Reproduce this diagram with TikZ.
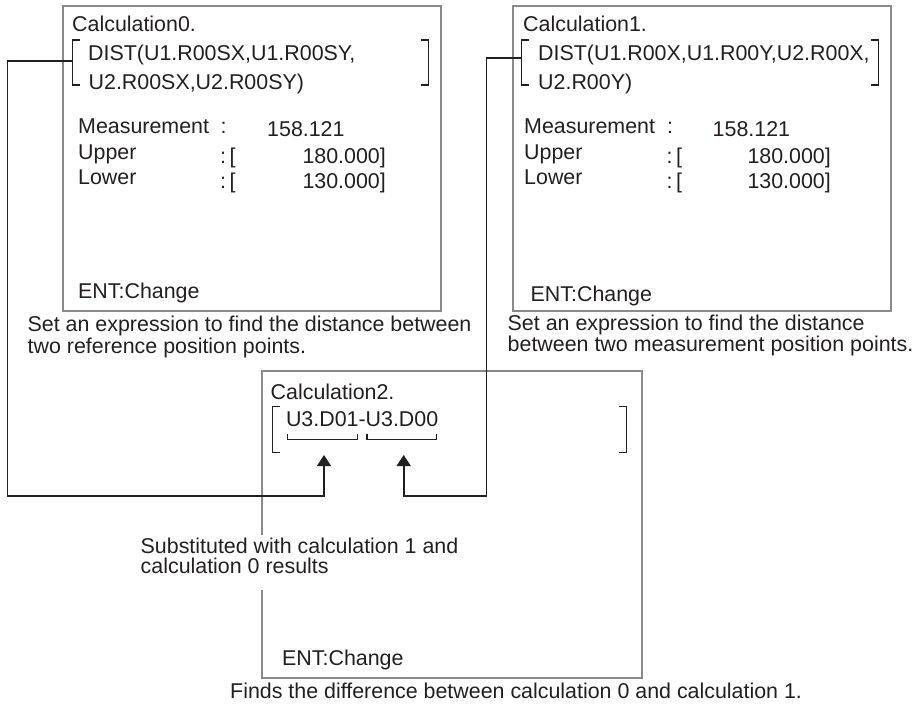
\documentclass[tikz,border=0pt]{standalone}
\usepackage{fontspec}
\setmainfont{Liberation Sans}
\usetikzlibrary{arrows.meta}
\definecolor{frameGray}{HTML}{8A8A8A}
\definecolor{inkBlack}{HTML}{231F20}
\newcommand{\panelfont}{\fontsize{21.4}{21.5}\selectfont}
\tikzset{
  panel/.style={draw=frameGray, line width=2pt, minimum width=377.5pt,
    minimum height=305pt, inner sep=0pt},
  txt/.style={anchor=base west, inner sep=0pt, font=\panelfont, text=inkBlack},
  rtxt/.style={txt, anchor=base east},
  bracket/.style={draw=inkBlack, line width=1.1pt},
  link/.style={draw=inkBlack, line width=1.6pt,
    -{Triangle[width=14pt,length=11pt]}}
}

\begin{document}
\begin{tikzpicture}[x=1pt, y=-1pt]
  \useasboundingbox (0,0) rectangle (915,706);

  % the three setting screens
  \node[panel] (calc0) at (251.75,158.5) {};
  \node[panel] (calc1) at (701.85,158.5) {};
  \node[panel, draw=none] (calc2) at (452,524.5) {};
  \draw[frameGray, line width=2pt]
    ([yshift=-164.4pt]calc2.north west) -- (calc2.north west)
    -- (calc2.north east) -- (calc2.south east) -- (calc2.south west)
    -- ([yshift=88.4pt]calc2.south west);

  % Calculation0
  \node[txt] (c0title) at (72,32) {Calculation0.};
  \node[txt] (c0expa) at (88,61) {DIST(U1.R00SX,U1.R00SY,};
  \node[txt] (c0expb) at (88.5,90) {U2.R00SX,U2.R00SY)};
  \node[txt] (c0meas) at (78,134) {Measurement};
  \node[txt] (c0measc) at (220.5,133) {:};
  \node[txt] (c0measv) at (267,136) {158.121};
  \node[txt] (c0up) at (78,159) {Upper};
  \node[txt] (c0upc) at (220,163) {:\,[};
  \node[rtxt] (c0upv) at (386,163) {180.000]};
  \node[txt] (c0low) at (78,184) {Lower};
  \node[txt] (c0lowc) at (220,188) {:\,[};
  \node[rtxt] (c0lowv) at (386,188) {130.000]};
  \node[txt] (c0ent) at (78,298) {ENT:Change};
  \node[txt] (c0notea) at (27.5,331.7)
    {Set an expression to find the distance between};
  \node[txt] (c0noteb) at (27.5,353.3) {two reference position points.};

  % Calculation1
  \node[txt] (c1title) at (523,32) {Calculation1.};
  \node[txt] (c1expa) at (538,61) {DIST(U1.R00X,U1.R00Y,U2.R00X,};
  \node[txt] (c1expb) at (538,90) {U2.R00Y)};
  \node[txt] (c1meas) at (524,134) {Measurement};
  \node[txt] (c1measc) at (667,133) {:};
  \node[txt] (c1measv) at (712.5,136) {158.121};
  \node[txt] (c1up) at (524,159) {Upper};
  \node[txt] (c1upc) at (666.5,163) {:\,[};
  \node[rtxt] (c1upv) at (831,163) {180.000]};
  \node[txt] (c1low) at (524,184) {Lower};
  \node[txt] (c1lowc) at (666.5,188) {:\,[};
  \node[rtxt] (c1lowv) at (831,188) {130.000]};
  \node[txt] (c1ent) at (530.5,301) {ENT:Change};
  \node[txt] (c1notea) at (507.5,330) {Set an expression to find the distance};
  \node[txt] (c1noteb) at (507.5,351.7) {between two measurement position points.};

  % Calculation2
  \node[txt] (c2title) at (270.5,399) {Calculation2.};
  \node[txt] (c2exp) at (285.8,426.7) {U3.D01-U3.D00};
  \node[txt] (c2suba) at (140.5,553.3) {Substituted with calculation 1 and};
  \node[txt] (c2subb) at (140.5,573.3) {calculation 0 results};
  \node[txt] (c2ent) at (282,665) {ENT:Change};
  \node[txt] (c2note) at (230,698.3)
    {Finds the difference between calculation 0 and calculation 1.};

  % expression brackets
  \foreach \l/\r/\t/\b in {72.7/428.3/40/85, 521.5/878.3/40/85,
                           272.3/626.7/406.7/452.7} {
    \draw[bracket] (\l+7.5,\t) -- (\l,\t) -- (\l,\b) -- (\l+7.5,\b);
    \draw[bracket] (\r-7.5,\t) -- (\r,\t) -- (\r,\b) -- (\r-7.5,\b);
  }
  \draw[bracket] (287.7,434) -- (287.7,439.3) -- (357.3,439.3) -- (357.3,434);
  \draw[bracket] (367,434) -- (367,439.3) -- (436.7,439.3) -- (436.7,434);

  % connectors
  \coordinate (br0) at (72.7,61);
  \coordinate (br1) at (521.5,58.3);
  \coordinate (bend0) at (7.3,496);
  \coordinate (bend1) at (486.3,496);
  \coordinate (tip0) at (324,455);
  \coordinate (tip1) at (403.7,455);
  \draw[link] (br0) -| (bend0) -| (tip0);
  \draw[link] (br1) -| (bend1) -| (tip1);
\end{tikzpicture}
\end{document}
